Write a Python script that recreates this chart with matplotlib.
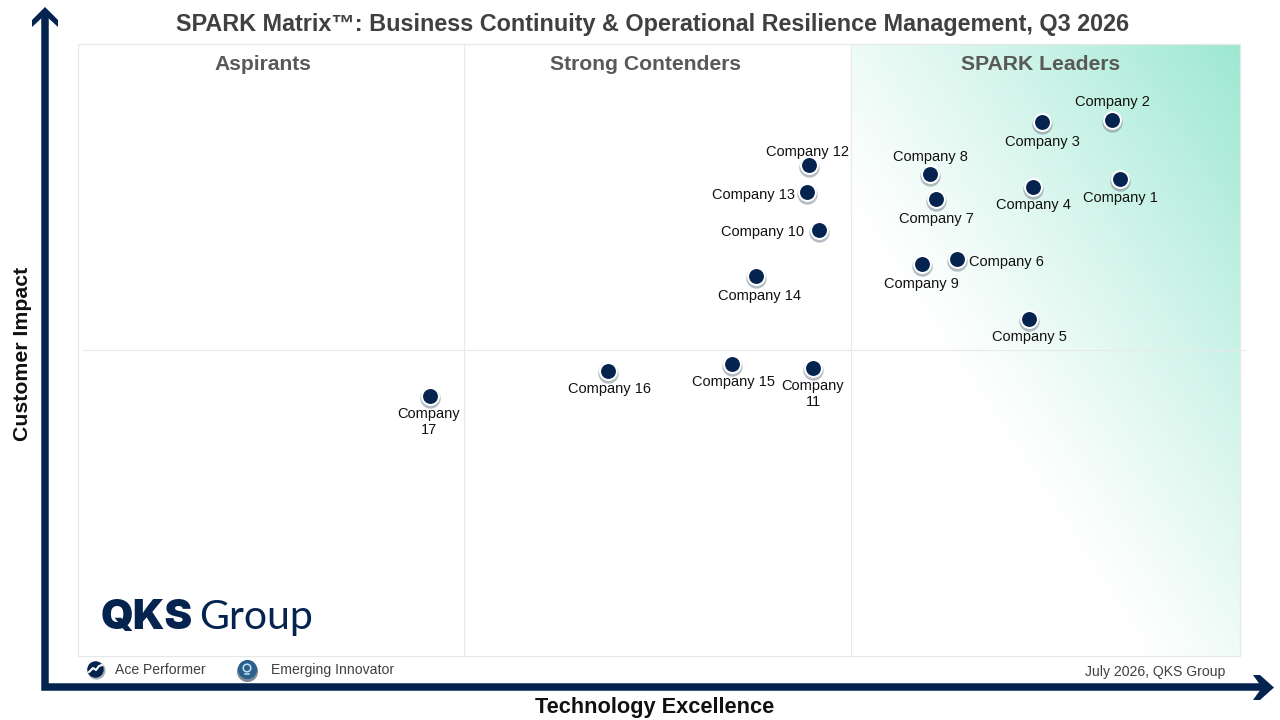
import numpy as np
import matplotlib
matplotlib.use('Agg')
import matplotlib.pyplot as plt
from matplotlib.colors import LinearSegmentedColormap
from matplotlib.patches import Rectangle

plt.rcParams['font.family'] = ['Liberation Sans', 'DejaVu Sans']

NAVY = '#04234f'

# positions, in picture pixels
companies = ['Company 1', 'Company 2', 'Company 3', 'Company 4', 'Company 5', 'Company 6',
             'Company 7', 'Company 8', 'Company 9', 'Company 10', 'Company\n11', 'Company 12',
             'Company 13', 'Company 14', 'Company 15', 'Company 16', 'Company\n17']
x_vals = [1120, 1112, 1042, 1033, 1029, 957, 936, 930, 922, 819, 813, 809, 807, 756, 732, 608, 430]
y_vals = [179, 120, 122, 187, 319, 259, 199, 174, 264, 230, 368, 165, 192, 276, 364, 371, 396]
label_x = [1120, 1112, 1042, 1033, 1029, 1006, 936, 930, 921, 763, 813, 807, 753, 759, 733, 609, 429]
label_y = [198, 102, 142, 205, 337, 262, 219, 157, 284, 232, 394, 152, 195, 296, 382, 389, 422]

quadrants = ['Aspirants', 'Strong Contenders', 'SPARK Leaders']
quadrant_x = [262.5, 646, 1041]

fig = plt.figure(figsize=(12.8, 7.2), dpi=100)
ax = fig.add_axes([0, 0, 1, 1])

# leaders gradient, linear towards the top right corner
gx, gy = np.meshgrid(np.linspace(851, 1240, 200), np.linspace(44, 656, 300))
shade = np.clip(((gx - 940) * 290 - (gy - 350) * 190) / 145140, 0, 1) ** 1.15
cmap = LinearSegmentedColormap.from_list('lead', ['#ffffff', '#9de8d2'])
ax.imshow(shade, extent=[851, 1240, 656, 44], cmap=cmap, vmin=0, vmax=1,
          aspect='auto', zorder=1, interpolation='bilinear')
ax.set_xlim(0, 1280)
ax.set_ylim(720, 0)
ax.axis('off')

# plot frame and quadrant lines
ax.add_patch(Rectangle((78, 44), 1162, 612, fill=False, ec='#e6e8e8', lw=0.9, zorder=2))
ax.plot([464, 464], [44, 656], color='#e8eaea', lw=0.8, zorder=2)
ax.plot([851, 851], [44, 656], color='#e8eaea', lw=0.8, zorder=2)
ax.plot([83, 1245], [350, 350], color='#e8eaea', lw=0.8, zorder=2)

# axis arrows
ax.plot([45, 45, 1262], [14, 687, 687], color=NAVY, lw=5.4, solid_joinstyle='miter',
        solid_capstyle='butt', zorder=3)
ax.fill([45, 58, 58, 45, 32, 32], [7, 20, 27, 15, 27, 20], color=NAVY, lw=0, zorder=3)
ax.fill([1274, 1260, 1253, 1262, 1253, 1260], [687.5, 675, 675, 687.5, 700, 700], color=NAVY,
        lw=0, zorder=3)

# company markers
ax.scatter(np.array(x_vals) + 0.3, np.array(y_vals) + 1.5, s=215, color='#7d8894', alpha=0.55,
           linewidths=0, zorder=4)
ax.scatter(x_vals, y_vals, s=185, color='white', linewidths=0, zorder=5)
ax.scatter(x_vals, y_vals, s=115, color=NAVY, linewidths=0, zorder=6)
for name, lx, ly in zip(companies, label_x, label_y):
    ax.text(lx, ly, name, ha='center', va='center', fontsize=10.5, color='#111111',
            linespacing=1.1, zorder=7)

# titles
ax.text(652.5, 24, 'SPARK Matrix\u2122: Business Continuity & Operational Resilience Management, Q3 2026',
        ha='center', va='center', fontsize=16.85, fontweight='bold', color='#404040')
for name, qx in zip(quadrants, quadrant_x):
    ax.text(qx, 64, name, ha='center', va='center', fontsize=15.2, fontweight='bold',
            color='#595959', zorder=7)
ax.text(655, 707, 'Technology Excellence', ha='center', va='center', fontsize=15.7,
        fontweight='bold', color='#111111')
ax.text(23, 354, 'Customer Impact', ha='center', va='center', rotation=90, fontsize=15.3,
        fontweight='bold', color='#111111')

# logo
ax.text(101, 618, 'QKS', ha='left', va='center', fontsize=30, fontweight='black',
        family='Inter', color=NAVY)
ax.text(199, 618, 'Group', ha='left', va='center', fontsize=29.5, fontweight='normal',
        family='Lato', color=NAVY)

# legend
ax.scatter([95.5], [670], s=170, color='#a8b0bb', linewidths=0, zorder=4)
ax.scatter([95], [669], s=140, color=NAVY, linewidths=0, zorder=5)
ax.plot([89, 93, 96, 99, 102], [672, 668, 670, 666, 665], color='white', lw=1.5, zorder=6)
ax.text(115, 670, 'Ace Performer', ha='left', va='center', fontsize=10.05, color='#404040')

ax.scatter([247], [671], s=230, color='#7f8a96', linewidths=0, zorder=4)
ax.scatter([247], [669], s=190, color='#2b5f8c', linewidths=0, zorder=5)
ax.scatter([247], [668], s=30, facecolor='none', edgecolors='#c5e0f2', linewidths=1.1, zorder=6)
ax.plot([245, 249], [673.5, 673.5], color='#c5e0f2', lw=1.1, zorder=6)
ax.text(271, 670, 'Emerging Innovator', ha='left', va='center', fontsize=10.05, color='#404040')

ax.text(1225, 672, 'July 2026, QKS Group', ha='right', va='center', fontsize=10.05, color='#404040')

fig.savefig('out.png', dpi=100)
